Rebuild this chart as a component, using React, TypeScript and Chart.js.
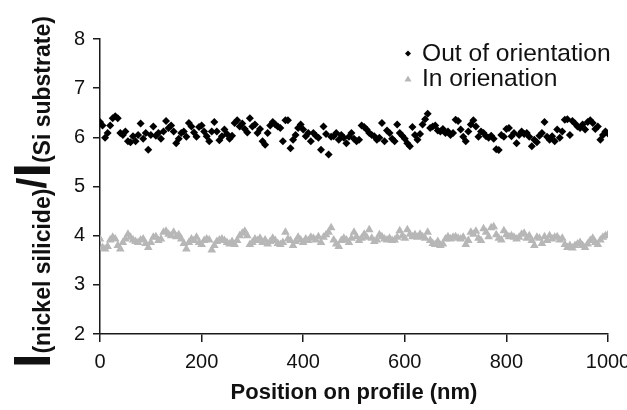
import React, { useEffect, useRef } from "react";
import { Chart, registerables } from "chart.js";

Chart.register(...registerables);

const FONT = "'Liberation Sans', Arial, Helvetica, sans-serif";

const xTicks = [0, 200, 400, 600, 800, 1000];
const yTicks = [2, 3, 4, 5, 6, 7, 8];
const stepNm = 5;
const seriesNames = ["Out of orientation", "In orienation"];
const xTitle = "Position on profile (nm)";
const yTitleParts = ["I", "(nickel silicide)", "/", "I", "(Si substrate)"];

const outOfOrientation = [
  6.31, 6.24, 5.99, 6.09, 6.24, 6.39, 6.43, 6.39, 6.09, 6.05,
  6.12, 5.92, 5.90, 6.02, 5.92, 6.05, 6.28, 5.97, 6.09, 5.75,
  6.05, 6.22, 6.03, 6.09, 5.97, 6.12, 6.33, 6.19, 6.24, 6.12,
  5.88, 5.97, 6.09, 6.12, 6.01, 6.29, 6.22, 6.10, 6.01, 6.21,
  6.24, 6.12, 6.02, 5.92, 6.12, 6.31, 6.12, 5.94, 6.02, 6.16,
  6.07, 5.97, 6.03, 6.29, 6.35, 6.22, 6.28, 6.17, 6.10, 6.39,
  6.22, 6.26, 6.09, 6.17, 5.92, 5.85, 6.09,
  6.24, 6.31, 6.26, 6.22, 6.19, 5.92, 6.35, 6.35, 5.78, 5.95,
  6.05, 6.19, 6.26, 6.16, 6.02, 6.09, 5.92, 6.09, 6.03, 5.99,
  5.75, 6.22, 6.07, 5.65, 6.01, 6.02, 6.09, 5.95, 6.05, 5.99,
  5.88, 6.01, 6.09, 5.97, 5.92, 5.95, 6.24, 6.21, 6.16, 6.09,
  6.05, 6.02, 5.95, 5.99, 6.29, 5.92, 6.14, 6.09, 5.97, 5.92,
  6.26, 6.09, 6.03, 5.97, 5.88, 5.82, 6.21, 6.05, 5.95, 6.07,
  6.26, 6.37, 6.48, 6.19, 6.22, 6.24, 6.14,
  6.12, 6.17, 6.09, 6.12, 6.05, 6.09, 6.36, 6.33, 6.16, 6.01,
  5.92, 6.12, 6.26, 6.35, 6.22, 6.01, 6.12, 6.09, 6.02, 5.99,
  6.03, 5.97, 5.76, 5.74, 6.05, 6.01, 6.17, 6.19, 6.02, 6.09,
  5.88, 6.05, 6.12, 6.07, 6.09, 6.01, 5.82, 5.95, 5.90, 6.03,
  6.09, 6.31, 6.01, 5.95, 6.02, 5.92, 6.16, 5.99, 6.12, 6.36,
  6.37, 6.05, 6.33, 6.28, 6.22, 6.19, 6.26, 6.16, 6.31, 6.35,
  6.29, 6.17, 6.22, 5.95, 6.05, 6.12, 6.08,
];

const inOrientation = [
  3.93, 3.76, 3.73, 3.78, 3.91, 3.97, 3.93, 3.80, 3.73, 3.86,
  3.93, 4.03, 3.97, 3.91, 3.88, 3.86, 3.91, 3.93, 3.84, 3.76,
  3.86, 3.97, 3.98, 3.90, 3.93, 4.07, 4.09, 4.03, 4.00, 4.07,
  3.98, 4.02, 3.93, 3.84, 3.73, 3.86, 3.93, 3.90, 3.97, 3.86,
  3.82, 3.90, 3.93, 3.91, 3.71, 3.80, 3.88, 3.91, 3.93, 3.90,
  3.86, 3.83, 3.88, 3.82, 3.90, 4.00, 4.05, 4.09, 4.00, 3.82,
  3.86, 3.93, 3.90, 3.95, 3.86, 3.91, 3.83, 3.88,
  3.95, 3.90, 3.84, 3.82, 3.86, 4.07, 3.93, 3.90, 3.80, 3.88,
  3.97, 3.91, 3.86, 3.93, 3.90, 3.97, 3.95, 3.91, 3.98, 3.86,
  3.97, 4.02, 4.07, 4.16, 3.91, 3.83, 3.78, 3.90, 3.95, 3.91,
  3.86, 3.95, 4.07, 3.98, 3.90, 3.95, 4.03, 3.97, 4.12, 3.95,
  3.88, 3.91, 4.02, 3.98, 3.93, 3.91, 3.95, 3.90, 3.91, 3.97,
  4.10, 4.00, 3.95, 4.12, 4.03, 3.98, 4.02, 3.97, 4.03, 3.98,
  3.95, 4.07, 3.90, 3.84, 3.82, 3.88, 3.80, 3.83,
  3.93, 3.98, 3.93, 3.97, 3.98, 3.95, 3.93, 3.97, 3.82, 3.90,
  4.07, 4.03, 4.09, 3.95, 3.90, 4.14, 4.07, 3.98, 4.16, 4.18,
  4.02, 3.95, 3.91, 4.10, 4.02, 3.98, 4.00, 3.97, 3.93, 3.97,
  4.03, 4.05, 3.95, 4.00, 3.90, 3.80, 3.97, 3.95, 3.84, 3.98,
  3.90, 4.00, 3.93, 3.97, 3.98, 3.91, 3.95, 3.82, 3.76, 3.80,
  3.75, 3.80, 3.83, 3.86, 3.80, 3.76, 3.83, 3.90, 3.95, 3.86,
  3.82, 3.91, 3.97, 4.00, 4.02,
];

const BLACK = "#000000";
const GRAY = "#b7b7b7";
const AXIS = "#1a1a1a";

const W = 627;
const H = 410;
const PLOT_LEFT = 100;
const PLOT_RIGHT = 608;
const PLOT_TOP = 39;
const PLOT_BOTTOM = 334;

const toPoints = (vals: number[]) => vals.map((v, i) => ({ x: i * stepNm, y: v }));

const annotations = {
  id: "annotations",
  afterDraw(chart: any) {
    const ctx = chart.ctx as CanvasRenderingContext2D;
    ctx.save();
    ctx.fillStyle = "#111";
    // legend
    ctx.font = `24.6px ${FONT}`;
    ctx.textAlign = "left";
    ctx.textBaseline = "alphabetic";
    const lx = 408;
    const rows = [
      { y: 60.5, name: seriesNames[0], color: BLACK, shape: "diamond" },
      { y: 86, name: seriesNames[1], color: GRAY, shape: "triangle" },
    ];
    rows.forEach((r) => {
      ctx.fillStyle = r.color;
      ctx.beginPath();
      const cy = r.y - 7;
      if (r.shape === "diamond") {
        ctx.moveTo(lx, cy - 3);
        ctx.lineTo(lx + 3, cy);
        ctx.lineTo(lx, cy + 3);
        ctx.lineTo(lx - 3, cy);
      } else {
        ctx.moveTo(lx, cy - 3.5);
        ctx.lineTo(lx + 3.5, cy + 2.5);
        ctx.lineTo(lx - 3.5, cy + 2.5);
      }
      ctx.closePath();
      ctx.fill();
      ctx.fillStyle = "#111";
      ctx.fillText(r.name, 422, r.y);
    });
    // x title
    ctx.font = `bold 22px ${FONT}`;
    ctx.textAlign = "center";
    ctx.textBaseline = "middle";
    ctx.fillText(xTitle, (PLOT_LEFT + PLOT_RIGHT) / 2, 393);
    // y title
    ctx.translate(50, 368);
    ctx.rotate(-Math.PI / 2);
    ctx.textAlign = "left";
    ctx.textBaseline = "alphabetic";
    const fonts = [
      `bold 52px ${FONT}`,
      `bold 23px ${FONT}`,
      `bold 40px ${FONT}`,
      `bold 52px ${FONT}`,
      `bold 23px ${FONT}`,
    ];
    const shifts = [0, 0, -4, 0, 0];
    let t = 0;
    yTitleParts.forEach((p, i) => {
      ctx.font = fonts[i];
      ctx.fillText(p, t, shifts[i]);
      t += ctx.measureText(p).width;
    });
    ctx.restore();
  },
};

export default function App() {
  const ref = useRef<HTMLCanvasElement | null>(null);
  useEffect(() => {
    if (!ref.current) return;
    const chart = new Chart(ref.current, {
      type: "scatter",
      data: {
        datasets: [
          {
            label: seriesNames[0],
            data: toPoints(outOfOrientation),
            pointStyle: "rectRot",
            pointRadius: 4,
            backgroundColor: BLACK,
            borderColor: BLACK,
            borderWidth: 0,
          },
          {
            label: seriesNames[1],
            data: toPoints(inOrientation),
            pointStyle: "triangle",
            pointRadius: 5,
            backgroundColor: GRAY,
            borderColor: GRAY,
            borderWidth: 0,
          },
        ],
      },
      options: {
        responsive: false,
        animation: false,
        layout: {
          padding: { left: 0, right: W - PLOT_RIGHT, top: PLOT_TOP, bottom: 0 },
        },
        plugins: {
          legend: { display: false },
          tooltip: { enabled: false },
          title: { display: false },
        },
        scales: {
          x: {
            type: "linear",
            min: 0,
            max: 1000,
            afterBuildTicks: (s: any) => {
              s.ticks = xTicks.map((v) => ({ value: v }));
            },
            afterFit: (s: any) => {
              s.height = H - PLOT_BOTTOM;
              s.paddingLeft = 0;
              s.paddingRight = 0;
            },
            ticks: {
              font: { family: FONT, size: 20 },
              color: "#111",
              padding: 8,
              maxRotation: 0,
              autoSkip: false,
              callback: (v: any) => String(v),
            },
            grid: {
              display: true,
              drawOnChartArea: false,
              drawTicks: true,
              tickLength: 8,
              color: AXIS,
              lineWidth: 1.5,
            },
            border: { display: true, color: AXIS, width: 1.5 },
          },
          y: {
            type: "linear",
            min: 2,
            max: 8,
            afterBuildTicks: (s: any) => {
              s.ticks = yTicks.map((v) => ({ value: v }));
            },
            afterFit: (s: any) => {
              s.width = PLOT_LEFT;
              s.paddingTop = 0;
              s.paddingBottom = 0;
            },
            ticks: {
              font: { family: FONT, size: 20 },
              color: "#111",
              padding: 8,
              autoSkip: false,
              callback: (v: any) => String(v),
            },
            grid: {
              display: true,
              drawOnChartArea: false,
              drawTicks: true,
              tickLength: 7,
              color: AXIS,
              lineWidth: 1.5,
            },
            border: { display: true, color: AXIS, width: 1.5 },
          },
        },
      },
      plugins: [annotations],
    });
    return () => chart.destroy();
  }, []);
  return (
    <div style={{ position: "absolute", left: 0, top: 0, width: W, height: H, background: "#fff" }}>
      <canvas ref={ref} width={W} height={H} style={{ display: "block" }} />
    </div>
  );
}
